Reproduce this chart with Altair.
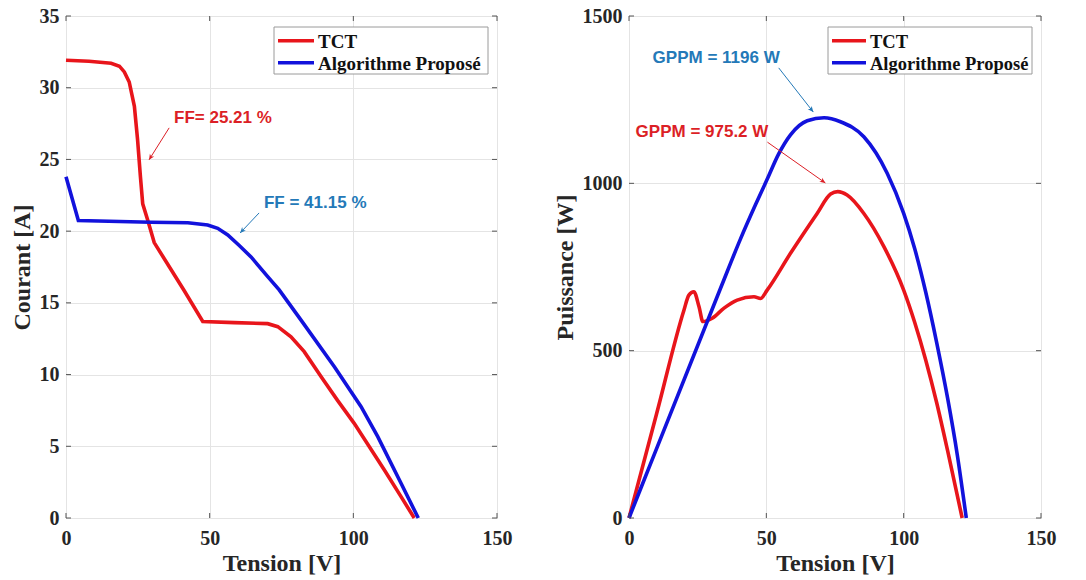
import altair as alt
import pandas as pd

# I-V characteristic: Tension [V] -> Courant [A]
tct_v = [0, 8, 15.7, 18.6, 20.3, 22.0, 23.8, 24.9, 25.9, 26.7, 28.4, 30.7, 36, 41, 47.6,
         58.6, 70.2, 73.7, 78.3, 82.9, 88.8, 94.5, 100.3, 110.8, 116.6, 121.2]
tct_i = [31.92, 31.85, 31.7, 31.5, 31.1, 30.4, 28.7, 26.4, 23.8, 21.9, 20.8, 19.2, 17.5, 15.9, 13.7,
         13.62, 13.55, 13.34, 12.64, 11.6, 9.85, 8.2, 6.6, 3.35, 1.49, 0]

alg_v = [0, 4.3, 29.6, 42.4, 49.3, 52.8, 56.3, 60.3, 64.4, 70.2, 74.2, 81.8, 93.4, 102.7, 108.5,
         116.6, 122.6]
alg_i = [23.8, 20.74, 20.62, 20.58, 20.43, 20.2, 19.74, 19.0, 18.2, 16.83, 15.9, 13.8, 10.55, 7.76, 5.67,
         2.42, 0]

# P-V characteristic: Tension [V] -> Puissance [W]
tct_pv_v = [0, 10, 20.0, 21.8, 23.6, 25.5, 26.9, 30.3, 34.6, 39.4, 45.5, 47.9, 50.3, 58.8, 68.5,
            73.4, 76.0, 79.4, 85.5, 92.8, 100, 104, 108, 112, 116, 121.3]
tct_pv_p = [0, 310, 621, 666, 676, 631, 587, 597, 627, 651, 661, 656, 681, 791, 910,
            968, 975.2, 965, 910, 811, 681, 585, 473, 345, 201, 0]

alg_pv_v = [0, 4.3, 33.4, 40.6, 46.0, 50.3, 54.5, 58.8, 64.9, 71.0, 77.0, 85.5, 94.0, 100,
            104, 108, 112, 116, 119.5, 122.8]
alg_pv_p = [0, 89, 688, 834, 935, 1012, 1088, 1145, 1187, 1196, 1184, 1139, 1030, 910,
            805, 676, 525, 358, 190, 0]

series = ["TCT", "Algorithme Proposé"]
line_colors = ["#e8151b", "#1212dc"]

v_ticks = [0, 50, 100, 150]
i_ticks = [0, 5, 10, 15, 20, 25, 30, 35]
p_ticks = [0, 500, 1000, 1500]

# Callouts: label anchor, arrow start, arrow tip (data units), arrow heading (deg)
iv_notes = [
    {"text": "FF= 25.21 %", "color": "#dc1f26", "tx": 37.6, "ty": 27.9,
     "x0": 35.9, "y0": 27.2, "x1": 28.9, "y1": 24.97, "angle": 212},
    {"text": "FF = 41.15 %", "color": "#2479b8", "tx": 68.9, "ty": 21.97,
     "x0": 67.2, "y0": 21.27, "x1": 60.6, "y1": 19.87, "angle": 223},
]
pv_notes = [
    {"text": "GPPM = 1196 W", "color": "#2479b8", "tx": 8.6, "ty": 1374,
     "x0": 54.5, "y0": 1345, "x1": 67.1, "y1": 1213, "angle": 141},
    {"text": "GPPM = 975.2 W", "color": "#dc1f26", "tx": 2.4, "ty": 1153,
     "x0": 50.4, "y0": 1123, "x1": 71.5, "y1": 1001, "angle": 125},
]

SERIF = "Liberation Serif"
SANS = "Liberation Sans"
HEIGHT = 502
ARROW = "M0,0L-0.45,1L0,0.72L0.45,1Z"
X_TITLE = "Tension [V]"


def long_frame(v1, y1, v2, y2):
    rows = [{"x": a, "y": b, "s": series[0], "o": k} for k, (a, b) in enumerate(zip(v1, y1))]
    rows += [{"x": a, "y": b, "s": series[1], "o": k} for k, (a, b) in enumerate(zip(v2, y2))]
    return pd.DataFrame(rows)


def legend_box(width, box_w, sym_w, text_dx, font_size):
    """Boxed legend in the upper right corner of a panel."""
    left = width - 9 - box_w
    one = pd.DataFrame({"k": [0]})
    parts = [
        alt.Chart(one).mark_rect(fill="white", stroke="#9a9a9a", strokeWidth=1).encode(
            x=alt.value(left), x2=alt.value(left + box_w), y=alt.value(11), y2=alt.value(58)),
    ]
    for row, (name, col) in enumerate(zip(series, line_colors)):
        cy = 24.7 + 22 * row
        parts.append(alt.Chart(one).mark_rule(color=col, strokeWidth=3.6).encode(
            x=alt.value(left + 4), x2=alt.value(left + 4 + sym_w), y=alt.value(cy)))
        parts.append(alt.Chart(one).mark_text(
            text=name, align="left", baseline="middle", font=SERIF, fontWeight="bold",
            fontSize=font_size, color="#111111").encode(
            x=alt.value(left + text_dx), y=alt.value(cy + 1)))
    return parts


def panel(df, ydom, yticks, ytitle, width, notes, legend_args, interp):
    xs = alt.Scale(domain=[0, 150], nice=False, zero=False)
    ys = alt.Scale(domain=ydom, nice=False, zero=False)

    def X(field):
        return alt.X(field, type="quantitative", scale=xs, title=X_TITLE)

    def Y(field):
        return alt.Y(field, type="quantitative", scale=ys, title=ytitle)

    lines = alt.Chart(df).mark_line(strokeWidth=3.6, interpolate=interp).encode(
        x=alt.X("x:Q", scale=xs, axis=alt.Axis(values=v_ticks), title=X_TITLE),
        y=alt.Y("y:Q", scale=ys, axis=alt.Axis(values=yticks, format="d"), title=ytitle),
        order="o:Q",
        color=alt.Color("s:N", scale=alt.Scale(domain=series, range=line_colors), legend=None),
    )

    # inward tick marks on all four sides
    ytk = pd.DataFrame({"y": yticks})
    xtk = pd.DataFrame({"x": v_ticks})
    tick_style = dict(color="#555555", strokeWidth=1)
    ticks = [
        alt.Chart(ytk).mark_rule(**tick_style).encode(y=Y("y"), x=alt.value(0), x2=alt.value(5)),
        alt.Chart(ytk).mark_rule(**tick_style).encode(
            y=Y("y"), x=alt.value(width - 5), x2=alt.value(width)),
        alt.Chart(xtk).mark_rule(**tick_style).encode(
            x=X("x"), y=alt.value(HEIGHT - 5), y2=alt.value(HEIGHT)),
        alt.Chart(xtk).mark_rule(**tick_style).encode(x=X("x"), y=alt.value(0), y2=alt.value(5)),
    ]

    callouts = []
    for n in notes:
        nd = pd.DataFrame([n])
        callouts.append(
            alt.Chart(nd).mark_rule(color=n["color"], strokeWidth=1).encode(
                x=X("x0"), y=Y("y0"), x2="x1:Q", y2="y1:Q"))
        callouts.append(
            alt.Chart(nd).mark_point(shape=ARROW, filled=True, size=130, opacity=1,
                                     color=n["color"], angle=n["angle"]).encode(
                x=X("x1"), y=Y("y1")))
        callouts.append(
            alt.Chart(nd).mark_text(align="left", baseline="middle", font=SANS,
                                    fontWeight="bold", fontSize=17, color=n["color"]).encode(
                x=X("tx"), y=Y("ty"), text="text:N"))

    return alt.layer(lines, *ticks, *callouts, *legend_box(width, *legend_args)).properties(
        width=width, height=HEIGHT)


iv = panel(long_frame(tct_v, tct_i, alg_v, alg_i), [0, 35], i_ticks, "Courant [A]", 431,
           iv_notes, (214, 36, 44, 19), "linear")
pv = panel(long_frame(tct_pv_v, tct_pv_p, alg_pv_v, alg_pv_p), [0, 1500], p_ticks, "Puissance [W]", 412,
           pv_notes, (204, 34, 42, 18.5), "monotone")

chart = alt.hconcat(iv, pv, spacing=132, bounds="flush").resolve_scale(
    color="independent"
).properties(
    padding={"left": 9, "top": 5, "right": 0, "bottom": 0},
).configure_view(
    stroke="#9a9a9a", strokeWidth=1
).configure_axis(
    labelFont=SERIF, labelFontWeight="bold", labelFontSize=20, labelColor="#262626",
    titleFont=SERIF, titleFontWeight="bold", titleFontSize=24, titleColor="#262626",
    grid=True, gridColor="#e4e4e4", gridWidth=1, domain=False, ticks=False, tickSize=0,
    labelFlush=False, labelOverlap=False,
).configure_axisX(
    labelPadding=10, titlePadding=3,
).configure_axisY(
    labelPadding=7, titlePadding=5,
)

chart.save("out.html", embed_options={"renderer": "svg", "actions": False})
